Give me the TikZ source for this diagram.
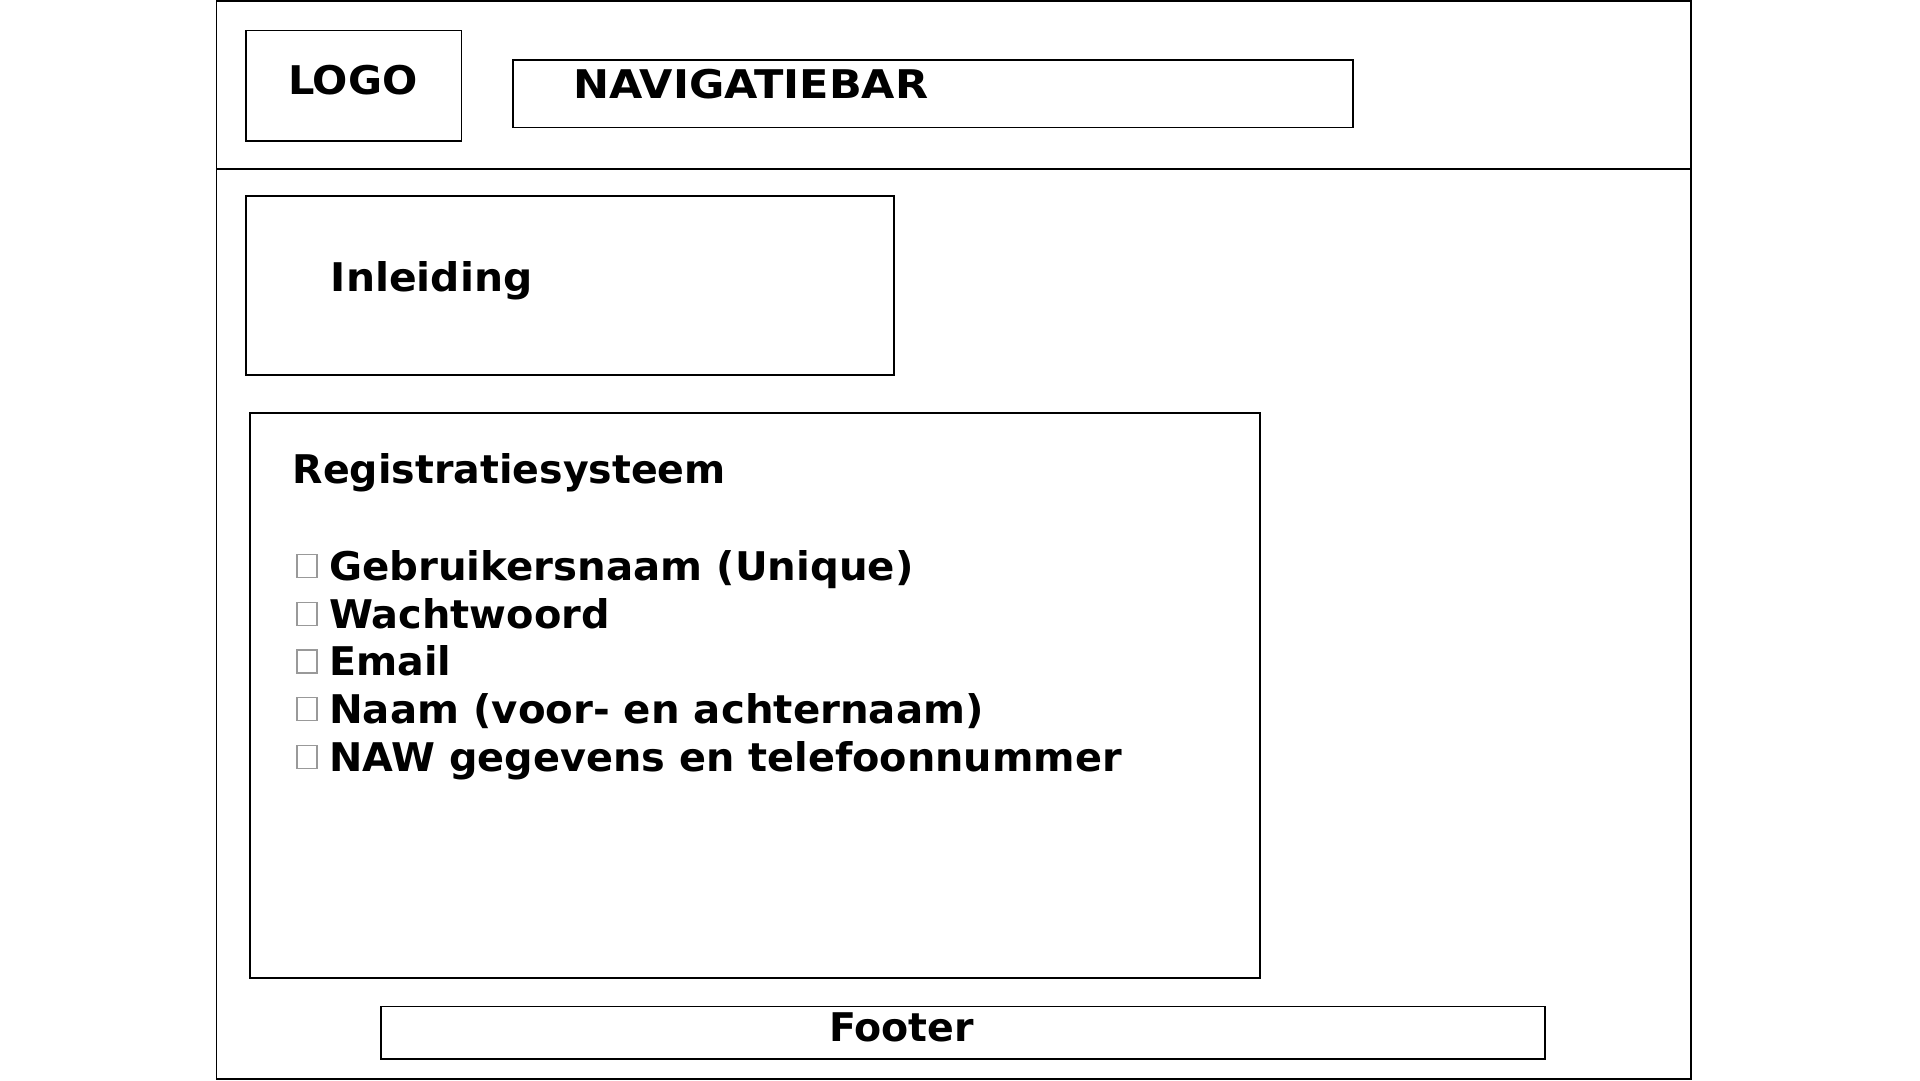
\documentclass[tikz,border=0pt]{standalone}
\usepackage{fontspec}
\setmainfont{DejaVu Sans}
\tikzset{
  frame/.style={draw=black, line width=1.5pt},
  wbox/.style={draw=black, line width=1.4pt, fill=none},
  lbl/.style={anchor=base west, inner sep=0pt, font=\fontsize{39.5}{40}\selectfont\bfseries},
  bul/.style={draw=gray!80, line width=1.2pt, minimum width=20pt, minimum height=23pt, inner sep=0pt},
}
\begin{document}
\begin{tikzpicture}[x=1pt,y=-1pt]
\useasboundingbox (0,0) rectangle (1920,1080);
\fill[white] (0,0) rectangle (1920,1080);
% outer frame and header separator
\draw[frame] (216.7,1) rectangle (1691,1079);
\coordinate (hl) at (216.7,169);
\coordinate (hr) at (1691,169);
\draw[frame] (hl) -- (hr);
% boxes
\draw[wbox] (246,30.6) rectangle (461.6,140.8);
\draw[wbox] (513,60) rectangle (1353,127.3);
\draw[wbox] (246,196) rectangle (894,375);
\draw[wbox] (250,413) rectangle (1260,978);
\draw[wbox] (381,1006.5) rectangle (1545,1059);
% texts
\node[lbl, xscale=1.05, transform shape] (logo) at (287.8,94) {LOGO};
\node[lbl, xscale=1.09, transform shape] (nav) at (573,98) {NAVIGATIEBAR};
\node[lbl, xscale=1.035, transform shape] (inl) at (330.6,291.7) {Inleiding};
\node[lbl] (reg) at (292.6,483.5) {Registratiesysteem};
\node[lbl, xscale=1.02, transform shape] (i1) at (329,580.2) {Gebruikersnaam (Unique)};
\node[lbl, xscale=1.01, transform shape] (i2) at (329,628) {Wachtwoord};
\node[lbl] (i3) at (329,675.7) {Email};
\node[lbl, xscale=1.02, transform shape] (i4) at (329,723.5) {Naam (voor- en achternaam)};
\node[lbl, xscale=1.008, transform shape] (i5) at (329,771.3) {NAW gegevens en telefoonnummer};
\node[lbl] (foot) at (829,1041.7) {Footer};
% empty bullet boxes
\node[bul] (b1) at (307,566) {};
\node[bul] (b2) at (307,613.8) {};
\node[bul] (b3) at (307,661.5) {};
\node[bul] (b4) at (307,709.3) {};
\node[bul] (b5) at (307,757) {};
\end{tikzpicture}
\end{document}
